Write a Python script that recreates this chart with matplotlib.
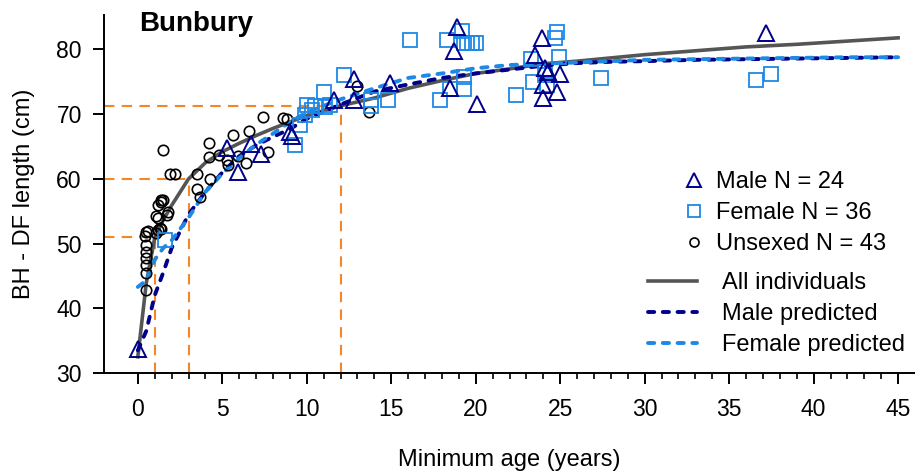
import numpy as np
import matplotlib
matplotlib.use('Agg')
import matplotlib.pyplot as plt
from matplotlib.lines import Line2D

plt.rcParams['font.family'] = ['Liberation Sans', 'DejaVu Sans']

# observed lengths (age in years, length in cm)
male_age = [0.0, 5.3, 5.9, 6.7, 7.3, 9.0, 9.1, 11.6, 12.8, 12.8, 14.9, 18.9,
            18.7, 18.5, 20.1, 23.9, 23.5, 24.1, 24.3, 24.0, 24.0, 25.0, 24.8, 37.2]
male_len = [33.7, 64.7, 61.1, 65.4, 63.8, 67.3, 66.6, 72.2, 75.5, 72.2, 74.8, 83.4,
            79.8, 74.0, 71.5, 81.7, 79.1, 77.1, 76.5, 74.5, 72.5, 76.2, 73.4, 82.5]

female_age = [1.6, 9.3, 9.6, 9.9, 10.0, 10.5, 11.0, 11.1, 12.2, 13.8, 13.8, 14.8,
              16.1, 18.3, 19.2, 19.3, 19.5, 19.8, 20.0, 17.9, 18.5, 19.3, 19.3, 22.4,
              23.3, 23.4, 24.8, 24.7, 24.9, 27.4, 36.6, 37.5, 24.2, 10.3, 11.4, 24.1]
female_len = [50.6, 65.2, 68.3, 69.9, 71.4, 71.2, 73.5, 71.1, 76.0, 72.2, 71.2, 72.2,
              81.5, 81.5, 82.8, 81.0, 81.0, 81.0, 81.0, 72.2, 73.9, 73.9, 75.8, 73.0,
              78.6, 75.0, 82.7, 81.8, 78.9, 75.6, 75.3, 76.2, 74.5, 70.6, 71.4, 76.1]

unsexed_age = [0.4, 0.5, 0.5, 0.5, 0.5, 0.5, 0.5, 0.5, 1.1, 1.2, 1.36, 1.5, 1.3, 1.2,
               1.7, 1.8, 1.5, 1.9, 2.2, 3.5, 3.5, 3.7, 4.3, 4.2, 4.2, 4.8, 5.3, 5.35,
               5.65, 5.9, 6.4, 6.6, 7.4, 7.7, 8.6, 8.8, 13.0, 13.7, 1.1, 1.4, 1.2, 1.4, 0.6]
unsexed_len = [51.1, 51.8, 49.8, 48.7, 47.7, 46.7, 45.4, 42.9, 54.2, 56.0, 56.8, 56.7, 52.4, 52.1,
               54.4, 54.9, 64.4, 60.7, 60.7, 60.8, 58.5, 57.2, 60.0, 65.5, 63.4, 63.7, 62.9, 62.2,
               66.8, 63.5, 62.4, 67.4, 69.6, 64.2, 69.4, 69.2, 74.4, 70.3, 51.6, 52.3, 53.9, 56.4, 52.0]

# fitted growth curves
curve_age = [0, 0.5, 1, 1.5, 2, 3, 4, 5, 6, 7, 8, 9, 10, 12, 14, 16, 18, 20,
             22, 24, 26, 28, 30, 33, 36, 39, 42, 45]
all_fit = [32.5, 43.9, 50.9, 53.6, 55.9, 60.0, 62.5, 64.2, 65.5, 66.7, 67.8, 68.8, 69.8,
           71.3, 72.5, 74.0, 75.2, 76.3, 77.0, 77.8, 78.2, 78.7, 79.2, 79.8, 80.4, 80.8, 81.3, 81.8]
male_fit = [33.5, 36.5, 42.0, 45.5, 49.3, 54.5, 58.0, 61.0, 63.5, 65.2, 66.5, 67.7, 69.3,
            71.5, 73.5, 74.6, 75.6, 76.3, 76.9, 77.5, 77.9, 78.1, 78.2, 78.4, 78.5, 78.6, 78.7, 78.8]
female_fit = [43.3, 44.3, 47.5, 49.3, 50.5, 54.0, 58.0, 60.8, 63.2, 65.3, 67.0, 68.8, 70.3,
              72.3, 74.0, 75.6, 76.3, 77.1, 77.6, 77.8, 78.0, 78.2, 78.4, 78.5, 78.6, 78.7, 78.8, 78.8]

# reference ages marked with orange guides
guide_age = [1, 3, 12]
guide_len = [51.0, 60.0, 71.3]

navy = '#00008B'
blue = '#1E88E5'
grey = '#555555'
orange = '#F0882A'

fig = plt.figure(figsize=(9.15, 4.75), dpi=100)
ax = fig.add_axes([0.1137, 0.2147, 0.8863, 0.7533])
xmin, ymin = -2, 30
ax.set_xlim(xmin, 46)
ax.set_ylim(ymin, 85.3)

for gx, gy in zip(guide_age, guide_len):
    ax.plot([xmin, gx], [gy, gy], color=orange, lw=1.5, ls=(0, (5, 3.5)), zorder=1)
    ax.plot([gx, gx], [ymin, gy], color=orange, lw=1.5, ls=(0, (5, 3.5)), zorder=1)

ax.plot(curve_age, all_fit, color=grey, lw=2.6, zorder=2)
ax.plot(curve_age, male_fit, color=navy, lw=2.8, ls=(0, (1.6, 2.2)),
        dash_capstyle='round', zorder=3)
ax.plot(curve_age, female_fit, color=blue, lw=2.8, ls=(0, (1.6, 2.2)),
        dash_capstyle='round', zorder=3)

ax.plot(unsexed_age, unsexed_len, 'o', ms=7.5, mfc='none', mec='black', mew=1.2, zorder=4)
ax.plot(female_age, female_len, 's', ms=9.5, mfc='none', mec=blue, mew=1.3, zorder=4)
ax.plot(male_age, male_len, '^', ms=11.5, mfc='none', mec=navy, mew=1.4, zorder=5)

ax.text(0.1, 84.0, 'Bunbury', fontsize=20, fontweight='bold', va='center')

for s in ['top', 'right']:
    ax.spines[s].set_visible(False)
for s in ['left', 'bottom']:
    ax.spines[s].set_linewidth(1.4)

ax.set_xticks(np.arange(0, 46, 5))
ax.set_xticks(np.arange(0, 46, 1), minor=True)
ax.set_yticks(np.arange(30, 81, 10))
ax.tick_params(axis='both', which='major', direction='out', length=8, width=1.4,
               labelsize=16.5)
ax.tick_params(axis='x', which='major', pad=10)
ax.tick_params(axis='y', which='major', pad=8)
ax.tick_params(axis='x', which='minor', direction='out', length=4, width=1.2)
ax.set_xlabel('Minimum age (years)', fontsize=17, labelpad=20)
ax.set_ylabel('BH - DF length (cm)', fontsize=17, labelpad=15)

mk_handles = [
    Line2D([], [], ls='none', marker='^', ms=10.5, mfc='none', mec=navy, mew=1.4),
    Line2D([], [], ls='none', marker='s', ms=8.5, mfc='none', mec=blue, mew=1.3),
    Line2D([], [], ls='none', marker='o', ms=6.5, mfc='none', mec='black', mew=1.2),
]
leg1 = fig.legend(mk_handles, ['Male N = 24', 'Female N = 36', 'Unsexed N = 43'],
                  loc='upper left', bbox_to_anchor=(0.7456, 0.6394), frameon=False,
                  fontsize=17, handlelength=1.0, handletextpad=0.43,
                  labelspacing=0.385, borderpad=0, borderaxespad=0)
ln_handles = [
    Line2D([], [], color=grey, lw=2.6),
    Line2D([], [], color=navy, lw=2.8, ls=(0, (1.6, 2.2)), dash_capstyle='round'),
    Line2D([], [], color=blue, lw=2.8, ls=(0, (1.6, 2.2)), dash_capstyle='round'),
]
leg2 = fig.legend(ln_handles, ['All individuals', 'Male predicted', 'Female predicted'],
                  loc='upper left', bbox_to_anchor=(0.7082, 0.4267), frameon=False,
                  fontsize=17, handlelength=2.08, handletextpad=1.06,
                  labelspacing=0.385, borderpad=0, borderaxespad=0)

fig.savefig('out.png', dpi=100)
